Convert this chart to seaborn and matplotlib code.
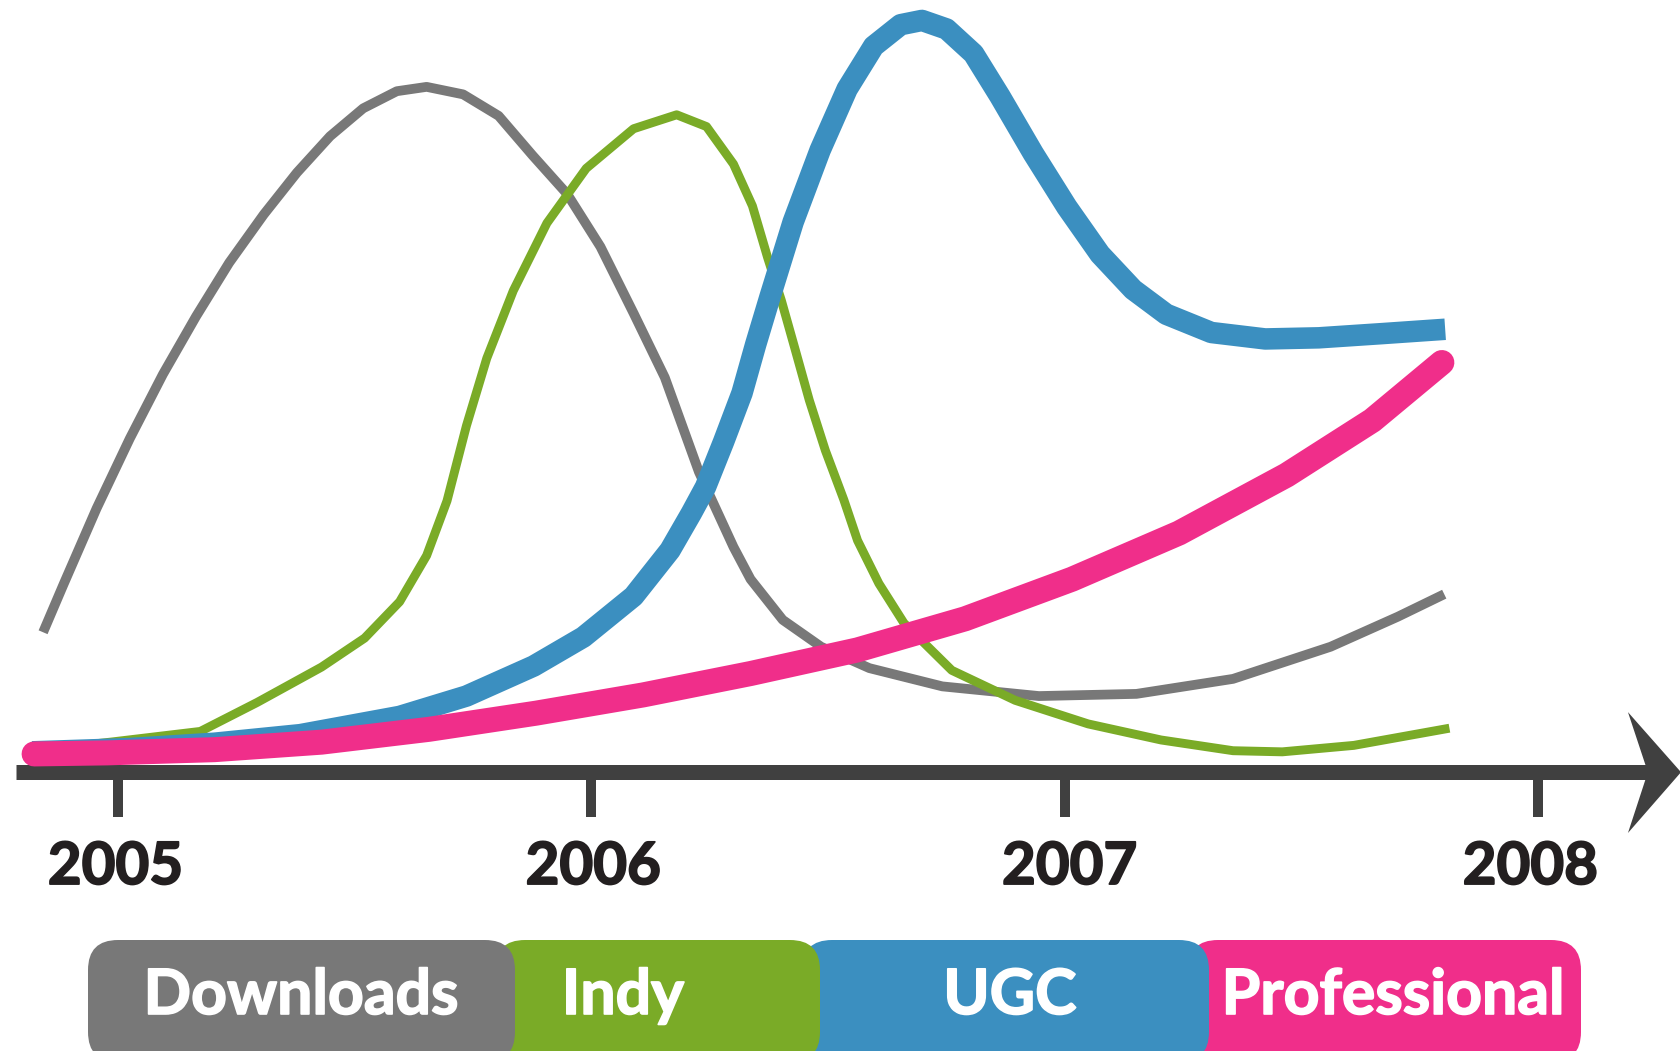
import matplotlib
matplotlib.use("Agg")
import matplotlib.pyplot as plt
import matplotlib.patheffects as pe
from matplotlib.patches import FancyBboxPatch, Polygon
import seaborn as sns
import pandas as pd

# ---------------- data (x in years, y in arbitrary popularity units) ----------------
downloads_x = [2004.842, 2004.885, 2004.955, 2005.025, 2005.095, 2005.165, 2005.235, 2005.308,
               2005.378, 2005.448, 2005.518, 2005.589, 2005.652, 2005.729, 2005.804, 2005.876,
               2005.949, 2006.019, 2006.089, 2006.155, 2006.227, 2006.300, 2006.336, 2006.404,
               2006.485, 2006.587, 2006.741, 2006.945, 2007.151, 2007.355, 2007.561, 2007.703,
               2007.801]
downloads_y = [18.64, 25.0, 35.14, 44.43, 53.0, 60.71, 67.86, 74.29,
               79.86, 84.71, 88.43, 90.71, 91.29, 90.29, 87.43, 82.14,
               77.0, 70.0, 61.14, 52.57, 40.0, 30.0, 25.71, 20.29,
               16.71, 13.86, 11.43, 10.14, 10.43, 12.43, 16.71, 20.71,
               23.71]

indy_x = [2004.819, 2004.984, 2005.174, 2005.294, 2005.430, 2005.521, 2005.595, 2005.652,
          2005.695, 2005.736, 2005.779, 2005.835, 2005.906, 2005.989, 2006.089, 2006.180,
          2006.243, 2006.300, 2006.340, 2006.372, 2006.401, 2006.431, 2006.460, 2006.494,
          2006.533, 2006.562, 2006.607, 2006.660, 2006.761, 2006.895, 2007.049, 2007.203,
          2007.355, 2007.459, 2007.610, 2007.812]
indy_y = [2.86, 4.0, 5.43, 9.29, 14.0, 17.86, 22.71, 28.86,
          36.14, 46.14, 55.14, 64.14, 73.14, 80.43, 85.71, 87.57,
          86.0, 81.0, 75.43, 68.57, 62.86, 56.14, 49.57, 42.86,
          36.29, 30.86, 25.14, 19.86, 13.57, 9.57, 6.43, 4.29,
          2.86, 2.71, 3.57, 5.86]

ugc_x = [2004.819, 2005.023, 2005.204, 2005.385, 2005.595, 2005.736, 2005.878, 2005.983,
         2006.089, 2006.166, 2006.211, 2006.241, 2006.279, 2006.318, 2006.347, 2006.377,
         2006.426, 2006.483, 2006.540, 2006.596, 2006.653, 2006.698, 2006.750, 2006.807,
         2006.863, 2006.933, 2007.004, 2007.074, 2007.144, 2007.214, 2007.309, 2007.423,
         2007.536, 2007.672, 2007.803]
ugc_y = [2.71, 3.14, 3.86, 5.0, 7.43, 10.14, 14.14, 18.0,
         23.43, 29.57, 34.5, 38.0, 44.0, 50.5, 57.0, 63.3,
         73.29, 82.86, 91.0, 96.71, 99.57, 100.14, 99.0, 95.71,
         90.0, 82.43, 75.29, 69.0, 64.29, 61.0, 58.57, 57.71,
         57.86, 58.43, 59.0]

pro_x = [2004.823, 2004.977, 2005.204, 2005.430, 2005.657, 2005.883, 2006.109, 2006.336,
         2006.562, 2006.789, 2007.015, 2007.241, 2007.468, 2007.649, 2007.796]
pro_y = [2.43, 2.57, 3.0, 4.0, 5.71, 7.86, 10.29, 13.14,
         16.29, 20.43, 25.71, 31.86, 39.57, 46.86, 54.57]

years = [2005, 2006, 2007, 2008]
year_labels = ["2005", "2006", "2007", "2008"]
series_names = ["Downloads", "Indy", "UGC", "Professional"]

# ---------------- style ----------------
GRAY = "#787878"
GREEN = "#7aab27"
BLUE = "#3b8fc0"
PINK = "#f02e8a"
AXIS = "#404040"
TEXT = "#231f20"
colors = [GRAY, GREEN, BLUE, PINK]
widths = [7.0, 6.4, 15.5, 18.0]

sns.set_theme(style="white")
plt.rcParams["font.family"] = ["Lato", "DejaVu Sans"]

W, H = 1681, 1051
fig = plt.figure(figsize=(W / 100, H / 100), dpi=100, facecolor="white")
ax = fig.add_axes([0, 0, 1, 1])
ax.set_xlim(2004.751, 2008.301)
ax.set_ylim(-37.14, 102.86)
ax.axis("off")

series = [(downloads_x, downloads_y), (indy_x, indy_y), (ugc_x, ugc_y), (pro_x, pro_y)]
for i, ((xs, ys), name) in enumerate(zip(series, series_names)):
    df = pd.DataFrame({"year": xs, "value": ys})
    cap = "round" if name == "Professional" else "butt"
    sns.lineplot(data=df, x="year", y="value", ax=ax, color=colors[i], linewidth=widths[i],
                 estimator=None, sort=False, solid_capstyle=cap, solid_joinstyle="round",
                 zorder=3 + i)

# time axis with arrow
ax.hlines(0, 2004.785, 2008.235, color=AXIS, linewidth=10.8, zorder=2)
ax.add_patch(Polygon([(2008.189, 8.0), (2008.301, 0.0), (2008.189, -8.1), (2008.231, 0.0)],
                     closed=True, facecolor=AXIS, edgecolor="none", zorder=2))
ax.vlines(years, -6.0, 0, color=AXIS, linewidth=7.2, zorder=2)
label_dx = [-0.005, 0.004, 0.01, -0.017]
for yr, lab, dx in zip(years, year_labels, label_dx):
    ax.text(yr + dx, -12.7, lab, ha="center", va="center", fontsize=42, fontweight="bold",
            color=TEXT, path_effects=[pe.withStroke(linewidth=1.3, foreground=TEXT)])

# legend bar (pixel coordinate overlay)
lax = fig.add_axes([0, 0, 1, 1], facecolor="none")
lax.set_xlim(0, W)
lax.set_ylim(H, 0)
lax.axis("off")
seg_x = [(88, 515), (495, 820), (802, 1209), (1188, 1581)]
text_cx = [301, 623, 1010, 1393]
top, bottom = 940, 1062
for i in reversed(range(4)):
    x0, x1 = seg_x[i]
    lax.add_patch(FancyBboxPatch((x0, top), x1 - x0, bottom - top,
                                 boxstyle="round,pad=0,rounding_size=30",
                                 facecolor=colors[i], edgecolor="none", zorder=2 + (3 - i)))
    lax.text(text_cx[i], 996, series_names[i], ha="center", va="center", fontsize=45,
             fontweight="bold", color="white", zorder=10,
             path_effects=[pe.withStroke(linewidth=1.2, foreground="white")])

fig.savefig("out.png", dpi=100, facecolor="white")
